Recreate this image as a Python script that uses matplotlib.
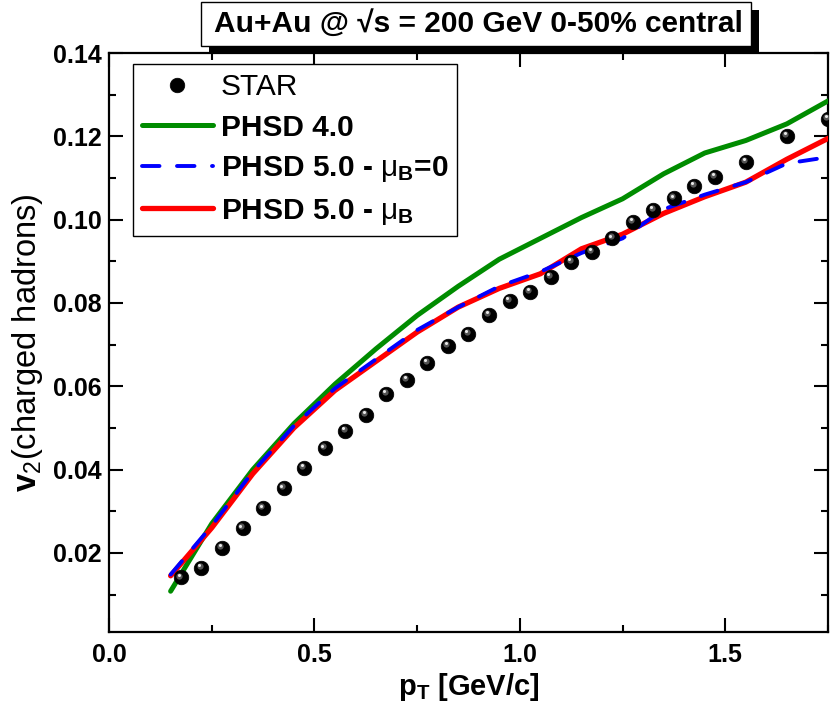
import numpy as np
import matplotlib
matplotlib.use('Agg')
import matplotlib.pyplot as plt
from matplotlib.patches import Rectangle
from matplotlib.transforms import offset_copy
from matplotlib.ticker import MultipleLocator

plt.rcParams['font.family'] = ['Liberation Sans', 'DejaVu Sans']
plt.rcParams['mathtext.fontset'] = 'custom'
plt.rcParams['mathtext.rm'] = 'Liberation Sans'
plt.rcParams['mathtext.bf'] = 'Liberation Sans:bold'
plt.rcParams['mathtext.it'] = 'Liberation Sans:italic'

## STAR data points
star_pt = [0.175, 0.225, 0.275, 0.325, 0.375, 0.425, 0.475, 0.525, 0.575, 0.625,
           0.675, 0.725, 0.775, 0.825, 0.875, 0.925, 0.975, 1.025, 1.075, 1.125,
           1.175, 1.225, 1.275, 1.325, 1.375, 1.425, 1.475, 1.55, 1.65, 1.75]
star_v2 = [0.0141, 0.0164, 0.0212, 0.0259, 0.0307, 0.0355, 0.0404, 0.0451, 0.0492, 0.0532,
           0.0581, 0.0615, 0.0656, 0.0696, 0.0726, 0.0772, 0.0805, 0.0826, 0.0862, 0.0899,
           0.0923, 0.0955, 0.0995, 0.1024, 0.1051, 0.1081, 0.1103, 0.1139, 0.1201, 0.1242]

## PHSD curves
phsd_pt = [0.15, 0.25, 0.35, 0.45, 0.55, 0.65, 0.75, 0.85, 0.95, 1.05,
           1.15, 1.25, 1.35, 1.45, 1.55, 1.65, 1.75]
phsd40 = [0.0108, 0.027, 0.0400, 0.0510, 0.0605, 0.0690, 0.0770, 0.0840, 0.0905, 0.0955,
          0.1005, 0.1050, 0.1110, 0.1160, 0.1190, 0.1230, 0.1285]
phsd50_mu0 = [0.0148, 0.0265, 0.0395, 0.0505, 0.0595, 0.0665, 0.0735, 0.0790, 0.0840, 0.0875,
              0.0920, 0.0955, 0.1025, 0.1060, 0.1090, 0.1135, 0.1150]
phsd50_mu = [0.0145, 0.0260, 0.0390, 0.0500, 0.0590, 0.0660, 0.0730, 0.0790, 0.0835, 0.0870,
             0.0930, 0.0965, 0.1015, 0.1055, 0.1090, 0.1145, 0.1195]

fig = plt.figure(figsize=(8.3, 7.05), dpi=100)
ax = fig.add_axes([0.1313, 0.1035, 0.8663, 0.8213])

ax.plot(phsd_pt, phsd40, color='#008c00', lw=3.6, solid_capstyle='round', label='PHSD 4.0', zorder=3)
ax.plot(phsd_pt, phsd50_mu, color='#ff0000', lw=3.8, solid_capstyle='round',
        label=r'PHSD 5.0 - $\mathrm{μ}_\mathbf{B}$', zorder=3)
ax.plot(phsd_pt, phsd50_mu0, color='#0000ff', lw=2.8, ls=(0, (4.5, 4.5)), dash_capstyle='round',
        label=r'PHSD 5.0 - $\mathrm{μ}_\mathbf{B}$=0', zorder=4)

# shaded spheres for STAR points
ax.plot(star_pt, star_v2, 'o', color='black', ms=10.5, mec='black', mew=0.5, label='STAR', zorder=5)
tr1 = offset_copy(ax.transData, fig=fig, x=-1.2, y=1.4, units='points')
tr2 = offset_copy(ax.transData, fig=fig, x=-1.6, y=2.0, units='points')
ax.plot(star_pt, star_v2, 'o', color='#555555', ms=4.5, mew=0, transform=tr1, zorder=6)
ax.plot(star_pt, star_v2, 'o', color='#e8e8e8', ms=2.2, mew=0, transform=tr2, zorder=7)

ax.set_xlim(0.0, 1.75)
ax.set_ylim(0.001, 0.14)
ax.xaxis.set_major_locator(MultipleLocator(0.5))
ax.xaxis.set_minor_locator(MultipleLocator(0.25))
ax.yaxis.set_major_locator(MultipleLocator(0.02))
ax.yaxis.set_minor_locator(MultipleLocator(0.01))
ax.set_xticks([0.0, 0.5, 1.0, 1.5])
ax.set_yticks([0.02, 0.04, 0.06, 0.08, 0.10, 0.12, 0.14])
ax.set_xticklabels(['0.0', '0.5', '1.0', '1.5'])
ax.set_yticklabels(['0.02', '0.04', '0.06', '0.08', '0.10', '0.12', '0.14'])
ax.tick_params(which='both', direction='in', top=True, right=True, width=1.5, labelsize=18)
ax.tick_params(axis='x', pad=8)
ax.tick_params(axis='y', pad=5)
ax.tick_params(which='major', length=10)
ax.tick_params(which='minor', length=5)
for lab in ax.get_xticklabels() + ax.get_yticklabels():
    lab.set_fontweight('bold')
for sp in ax.spines.values():
    sp.set_linewidth(1.6)

ax.set_xlabel(r'$\mathbf{p_T}$ [GeV/c]', fontsize=21, fontweight='bold', labelpad=3)
ax.set_ylabel(r'$\mathbf{v}_2$(charged hadrons)', fontsize=23.5, labelpad=6)

handles, labels = ax.get_legend_handles_labels()
order = [3, 0, 2, 1]
leg = ax.legend([handles[i] for i in order], [labels[i] for i in order],
                loc='upper left', bbox_to_anchor=(0.033, 0.981), fontsize=21.5,
                frameon=True, fancybox=False, edgecolor='black', framealpha=1,
                handlelength=2.4, handletextpad=0.25, labelspacing=0.42,
                borderpad=0.3, borderaxespad=0.0)
leg.get_frame().set_linewidth(1.0)
for i, t in enumerate(leg.get_texts()):
    if i > 0:
        t.set_fontweight('bold')

# title box with shadow
fig.patches.append(Rectangle((209 / 830, 1 - 54 / 705), 550 / 830, 44 / 705,
                             transform=fig.transFigure, facecolor='black', edgecolor='none', zorder=10))
fig.patches.append(Rectangle((201 / 830, 1 - 46 / 705), 550 / 830, 44 / 705,
                             transform=fig.transFigure, facecolor='white', edgecolor='black',
                             lw=1.0, zorder=11))
fig.text(478 / 830, 1 - 24 / 705, 'Au+Au @ \u221As = 200 GeV 0-50% central', fontsize=21.5,
         fontweight='bold', ha='center', va='center', zorder=12)

fig.savefig('out.png', dpi=100)
